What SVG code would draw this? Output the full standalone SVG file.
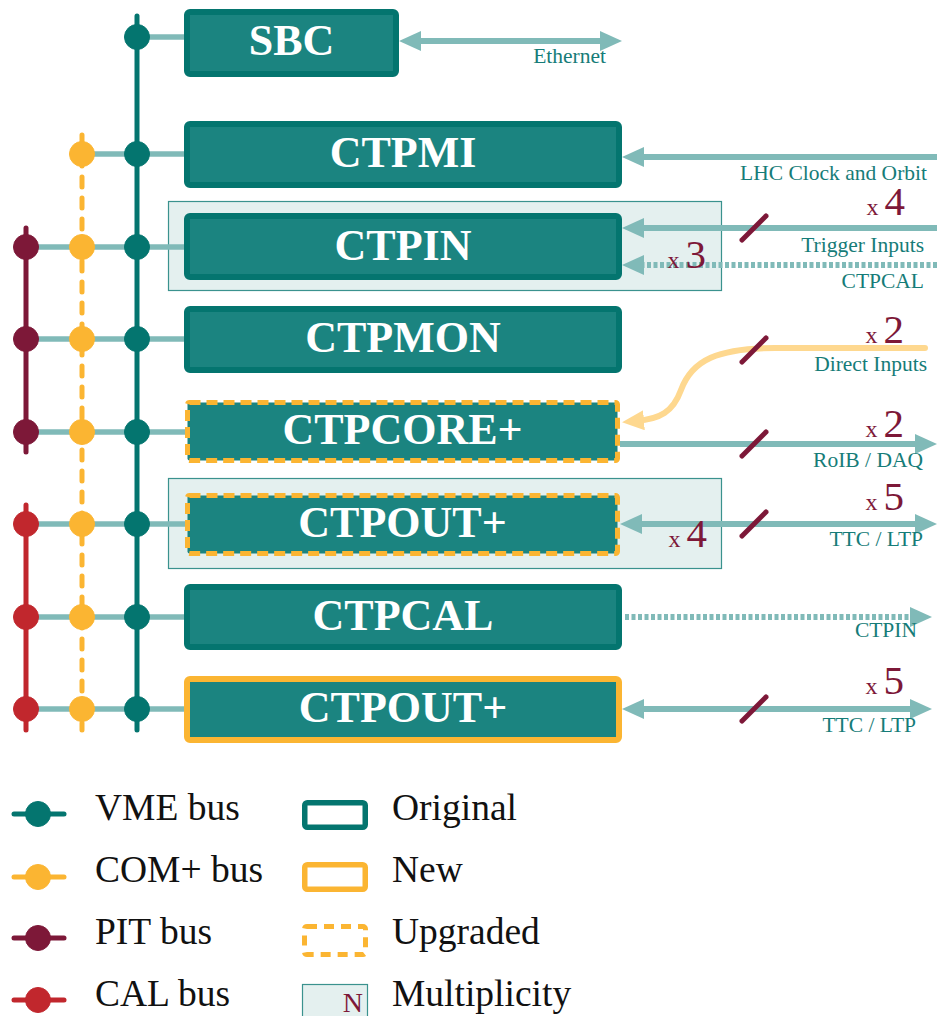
<svg xmlns="http://www.w3.org/2000/svg" width="937" height="1016" viewBox="0 0 937 1016">
  <style>
    .box { fill: #1b8480; stroke: #04756f; stroke-width: 6; }
    .box-new { fill: #1b8480; stroke: #fbb532; stroke-width: 6; }
    .box-up { fill: #1b8480; stroke: #fbb532; stroke-width: 5; stroke-dasharray: 11 6; }
    .mult { fill: #e4f0ef; stroke: #3a928e; stroke-width: 1.2; }
    .name { font-family: "Liberation Serif", "Times New Roman", serif; font-weight: bold; font-size: 44px; fill: #ffffff; text-anchor: middle; }
    .stub { stroke: #80bab8; stroke-width: 5.5; fill: none; }
    .link { stroke: #80bab8; stroke-width: 6; fill: none; }
    .dots { stroke: #80bab8; stroke-width: 6; fill: none; stroke-dasharray: 4 2.5; }
    .direct { stroke: #fed88f; stroke-width: 6; fill: none; stroke-linecap: round; }
    .slash { stroke: #7d1838; stroke-width: 5; stroke-linecap: round; }
    .lbl { font-family: "Liberation Serif", "Times New Roman", serif; font-size: 21.5px; fill: #167c78; text-anchor: end; }
    .mul { font-family: "Liberation Serif", "Times New Roman", serif; fill: #7d1838; text-anchor: end; }
    .mul .x { font-size: 24px; }
    .mul .n { font-size: 41px; }
    .vme { stroke: #04756f; fill: #04756f; }
    .com { stroke: #fbb532; fill: #fbb532; }
    .pit { stroke: #7d1838; fill: #7d1838; }
    .cal { stroke: #c1272d; fill: #c1272d; }
    .bus { stroke-width: 5; stroke-linecap: round; fill: none; }
    .legend-text { font-family: "Liberation Serif", "Times New Roman", serif; font-size: 37.5px; fill: #111111; }
  </style>
  <defs>
    <marker id="head" viewBox="0 0 22 20" markerWidth="22" markerHeight="20" refX="8" refY="10" orient="auto-start-reverse" markerUnits="userSpaceOnUse">
      <path d="M0,0 L22,10 L0,20 z" fill="#80bab8"/>
    </marker>
    <marker id="head-direct" viewBox="0 0 22 20" markerWidth="22" markerHeight="20" refX="8" refY="10" orient="auto" markerUnits="userSpaceOnUse">
      <path d="M0,0 L22,10 L0,20 z" fill="#fed88f"/>
    </marker>
  </defs>

  <rect width="937" height="1016" fill="#ffffff"/>

  <!-- multiplicity frames -->
  <g id="mult-ctpin">
    <rect class="mult" x="168.5" y="201.5" width="553" height="89"/>
  </g>
  <g id="mult-ctpout">
    <rect class="mult" x="168.5" y="478.5" width="553" height="90"/>
  </g>

  <g id="connectors">
    <!-- bus taps into each board -->
    <line class="stub" x1="137" y1="37" x2="188" y2="37"/>
    <line class="stub" x1="82" y1="154" x2="188" y2="154"/>
    <line class="stub" x1="26" y1="247" x2="188" y2="247"/>
    <line class="stub" x1="26" y1="339" x2="188" y2="339"/>
    <line class="stub" x1="26" y1="432" x2="188" y2="432"/>
    <line class="stub" x1="26" y1="524" x2="188" y2="524"/>
    <line class="stub" x1="26" y1="617" x2="188" y2="617"/>
    <line class="stub" x1="26" y1="709" x2="188" y2="709"/>

    <!-- bus backbones -->
    <line class="bus vme" x1="137" y1="16" x2="137" y2="730"/>
    <line class="bus com" x1="82" y1="135" x2="82" y2="730" stroke-dasharray="10 11"/>
    <line class="bus pit" x1="26" y1="228" x2="26" y2="452"/>
    <line class="bus cal" x1="26" y1="505" x2="26" y2="730"/>

    <!-- bus taps -->
    <g class="vme">
      <circle cx="137" cy="37" r="12.5"/>
      <circle cx="137" cy="154" r="12.5"/>
      <circle cx="137" cy="247" r="12.5"/>
      <circle cx="137" cy="339" r="12.5"/>
      <circle cx="137" cy="432" r="12.5"/>
      <circle cx="137" cy="524" r="12.5"/>
      <circle cx="137" cy="617" r="12.5"/>
      <circle cx="137" cy="709" r="12.5"/>
    </g>
    <g class="com">
      <circle cx="82" cy="154" r="12.5"/>
      <circle cx="82" cy="247" r="12.5"/>
      <circle cx="82" cy="339" r="12.5"/>
      <circle cx="82" cy="432" r="12.5"/>
      <circle cx="82" cy="524" r="12.5"/>
      <circle cx="82" cy="617" r="12.5"/>
      <circle cx="82" cy="709" r="12.5"/>
    </g>
    <g class="pit">
      <circle cx="26" cy="247" r="12.5"/>
      <circle cx="26" cy="339" r="12.5"/>
      <circle cx="26" cy="432" r="12.5"/>
    </g>
    <g class="cal">
      <circle cx="26" cy="524" r="12.5"/>
      <circle cx="26" cy="617" r="12.5"/>
      <circle cx="26" cy="709" r="12.5"/>
    </g>

    <!-- external links -->
    <line class="link" x1="413" y1="41" x2="608" y2="41" marker-start="url(#head)" marker-end="url(#head)"/>
    <line class="link" x1="937" y1="157" x2="636" y2="157" marker-end="url(#head)"/>
    <line class="link" x1="937" y1="228" x2="636" y2="228" marker-end="url(#head)"/>
    <line class="dots" x1="937" y1="265" x2="636" y2="265" marker-end="url(#head)"/>
    <path class="direct" d="M925,348 H775 C718,348 692,360 681,390 C673,412 660,419 636,421" marker-end="url(#head-direct)"/>
    <line class="link" x1="620" y1="444" x2="923" y2="444" marker-end="url(#head)"/>
    <line class="link" x1="634" y1="524" x2="923" y2="524" marker-start="url(#head)" marker-end="url(#head)"/>
    <line class="dots" x1="625" y1="617" x2="918" y2="617" marker-end="url(#head)"/>
    <line class="link" x1="636" y1="709" x2="918" y2="709" marker-start="url(#head)" marker-end="url(#head)"/>

    <!-- multiplicity slashes -->
    <line class="slash" x1="742" y1="240" x2="766" y2="216"/>
    <line class="slash" x1="742" y1="362" x2="766" y2="338"/>
    <line class="slash" x1="742" y1="456" x2="766" y2="432"/>
    <line class="slash" x1="742" y1="536" x2="766" y2="512"/>
    <line class="slash" x1="742" y1="721" x2="766" y2="697"/>

    <!-- link labels -->
    <text class="lbl" x="606" y="63">Ethernet</text>
    <text class="lbl" x="927" y="180">LHC Clock and Orbit</text>
    <text class="lbl" x="924" y="252">Trigger Inputs</text>
    <text class="lbl" x="924" y="288">CTPCAL</text>
    <text class="lbl" x="927" y="371">Direct Inputs</text>
    <text class="lbl" x="923" y="467">RoIB / DAQ</text>
    <text class="lbl" x="923" y="546">TTC / LTP</text>
    <text class="lbl" x="917" y="637">CTPIN</text>
    <text class="lbl" x="916" y="732">TTC / LTP</text>

    <text class="mul" x="905" y="215"><tspan class="x">x </tspan><tspan class="n">4</tspan></text>
    <text class="mul" x="706" y="268"><tspan class="x">x </tspan><tspan class="n">3</tspan></text>
    <text class="mul" x="904" y="343"><tspan class="x">x </tspan><tspan class="n">2</tspan></text>
    <text class="mul" x="904" y="437"><tspan class="x">x </tspan><tspan class="n">2</tspan></text>
    <text class="mul" x="904" y="510"><tspan class="x">x </tspan><tspan class="n">5</tspan></text>
    <text class="mul" x="707" y="547"><tspan class="x">x </tspan><tspan class="n">4</tspan></text>
    <text class="mul" x="904" y="694"><tspan class="x">x </tspan><tspan class="n">5</tspan></text>
  </g>

  <!-- boards -->
  <g id="sbc">
    <rect class="box" x="187" y="12" width="209" height="62" rx="3"/>
    <text class="name" x="291.5" y="55">SBC</text>
  </g>
  <g id="ctpmi">
    <rect class="box" x="187" y="124" width="432" height="61" rx="3"/>
    <text class="name" x="403" y="167">CTPMI</text>
  </g>
  <g id="ctpin">
    <rect class="box" x="187" y="216" width="432" height="61" rx="3"/>
    <text class="name" x="403" y="260">CTPIN</text>
  </g>
  <g id="ctpmon">
    <rect class="box" x="187" y="309" width="432" height="61" rx="3"/>
    <text class="name" x="403" y="352">CTPMON</text>
  </g>
  <g id="ctpcore">
    <rect class="box-up" x="187.5" y="402.5" width="430" height="58" rx="2"/>
    <text class="name" x="402.5" y="444">CTPCORE+</text>
  </g>
  <g id="ctpout-upgraded">
    <rect class="box-up" x="187.5" y="495.5" width="430" height="58" rx="2"/>
    <text class="name" x="402.5" y="537">CTPOUT+</text>
  </g>
  <g id="ctpcal">
    <rect class="box" x="187" y="587" width="432" height="60" rx="3"/>
    <text class="name" x="403" y="630">CTPCAL</text>
  </g>
  <g id="ctpout-new">
    <rect class="box-new" x="187" y="679" width="432" height="61" rx="3"/>
    <text class="name" x="403" y="722">CTPOUT+</text>
  </g>

  <!-- legend -->
  <g id="legend">
    <g class="vme">
      <line class="bus" x1="14" y1="814" x2="64" y2="814"/>
      <circle cx="38" cy="814" r="12.5"/>
    </g>
    <g class="com">
      <line class="bus" x1="14" y1="877" x2="64" y2="877"/>
      <circle cx="38" cy="877" r="12.5"/>
    </g>
    <g class="pit">
      <line class="bus" x1="14" y1="938" x2="64" y2="938"/>
      <circle cx="38" cy="938" r="12.5"/>
    </g>
    <g class="cal">
      <line class="bus" x1="14" y1="1000" x2="64" y2="1000"/>
      <circle cx="38" cy="1000" r="12.5"/>
    </g>
    <text class="legend-text" x="95" y="820">VME bus</text>
    <text class="legend-text" x="95" y="882">COM+ bus</text>
    <text class="legend-text" x="95" y="944">PIT bus</text>
    <text class="legend-text" x="95" y="1006">CAL bus</text>

    <rect x="304.75" y="802.75" width="60.5" height="24.5" rx="2.5" fill="#ffffff" stroke="#04756f" stroke-width="5.5"/>
    <rect x="304.75" y="864.75" width="60.5" height="24.5" rx="2.5" fill="#ffffff" stroke="#fbb532" stroke-width="5.5"/>
    <rect x="304.5" y="926.5" width="61" height="28" rx="2.5" fill="#ffffff" stroke="#fbb532" stroke-width="5" stroke-dasharray="10 7"/>
    <rect class="mult" x="302.5" y="984.5" width="65" height="40"/>
    <text class="mul" x="363" y="1012" font-size="28">N</text>
    <text class="legend-text" x="392" y="820">Original</text>
    <text class="legend-text" x="392" y="882">New</text>
    <text class="legend-text" x="392" y="944">Upgraded</text>
    <text class="legend-text" x="392" y="1006">Multiplicity</text>
  </g>
</svg>
